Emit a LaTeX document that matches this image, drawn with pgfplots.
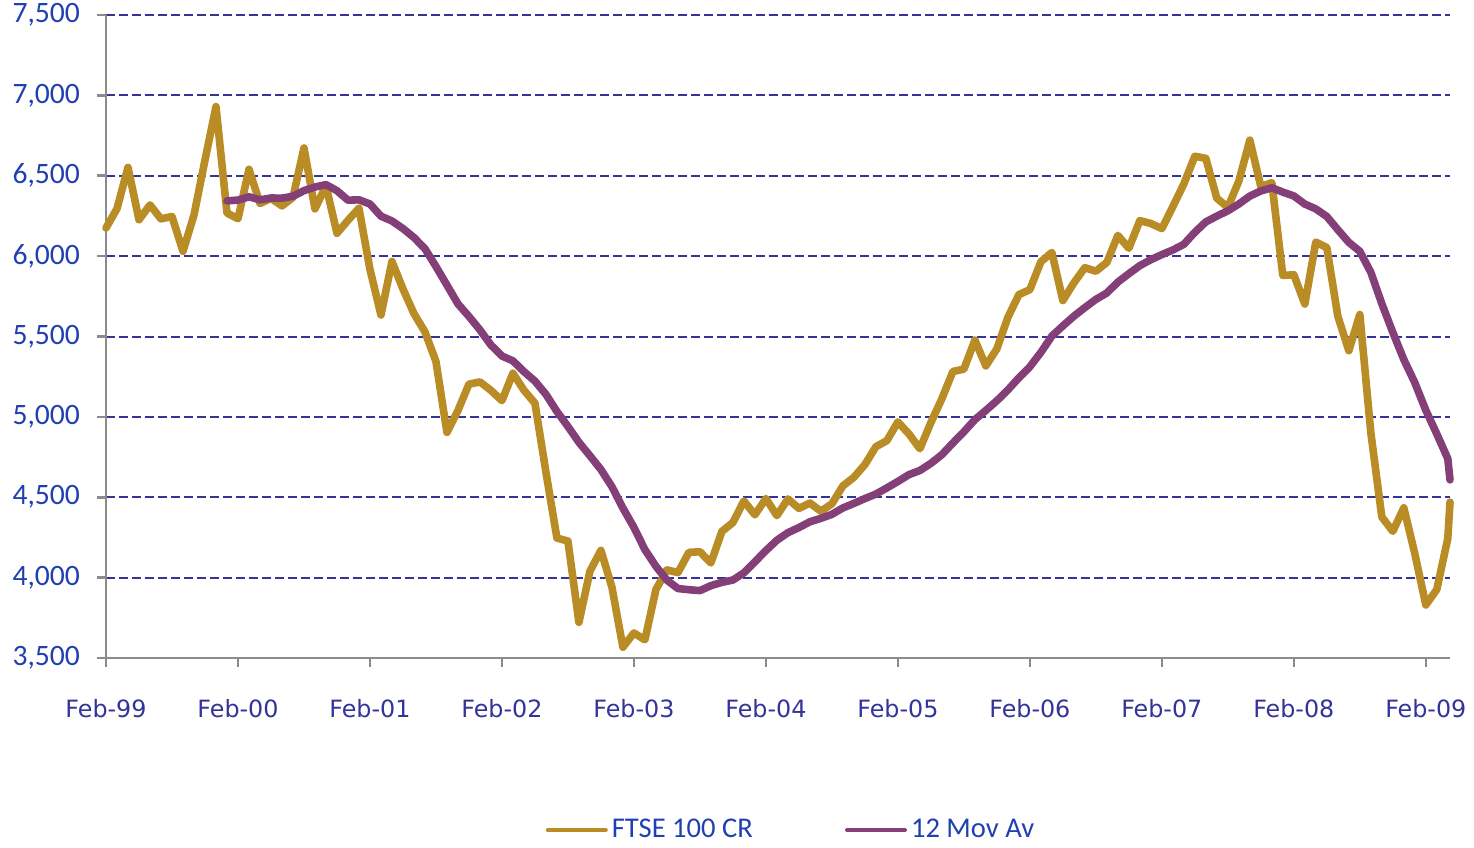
\documentclass[border=0pt]{standalone}
\usepackage{fontspec}
\setmainfont{Carlito}
\newfontfamily\dejavu{DejaVu Sans}
\usepackage{pgfplots}
\pgfplotsset{compat=1.18}
\definecolor{ftse}{RGB}{186,140,38}
\definecolor{mav}{RGB}{133,63,120}
\definecolor{gridblue}{RGB}{51,51,153}
\definecolor{ylab}{RGB}{32,64,178}
\definecolor{xlab}{RGB}{51,51,153}
\begin{document}
\begin{tikzpicture}
\useasboundingbox (-53pt,-94.5pt) rectangle (684pt,329pt);
\begin{axis}[
  at={(0,0)}, anchor=south west,
  scale only axis, width=672pt, height=321.5pt,
  xmin=0, xmax=122.2, ymin=3500, ymax=7500,
  clip=false,
  axis x line*=bottom, axis y line*=left,
  axis line style={draw=gray!90, line width=1.3pt},
  ytick={3500,4000,...,7500},
  xtick={0,12,...,120},
  xticklabels={Feb-99,Feb-00,Feb-01,Feb-02,Feb-03,Feb-04,Feb-05,Feb-06,Feb-07,Feb-08,Feb-09},
  tick align=outside, major tick length=4.5pt,
  tick style={draw=gray!90, line width=1.3pt},
  ymajorgrids,
  major grid style={draw=gridblue, dash pattern=on 4.5pt off 2pt, line width=1pt},
  /pgf/number format/assume math mode=true,
  /pgf/number format/.cd, fixed, 1000 sep={,}, /pgfplots/.cd,
  yticklabel style={font=\fontsize{14.8pt}{17pt}\selectfont, text=ylab, xshift=-5pt},
  xticklabel style={font=\dejavu\fontsize{11.9pt}{14pt}\selectfont, text=xlab, yshift=-12.5pt},
  legend style={at={(0.5104,-0.2675)}, anchor=center, draw=none, fill=none,
    legend columns=2, font=\fontsize{14.3pt}{17pt}\selectfont, text=ylab,
    /tikz/every even column/.append style={column sep=44pt}},
  legend image code/.code={\draw[#1, line width=2pt, line cap=round] (0pt,0pt) -- (29pt,0pt);},
]
\addplot[ftse, line width=3.8pt, line join=round, line cap=round] coordinates {
(0,6175.0) (1,6295.3) (2,6552.2) (3,6226.2) (4,6318.5) (5,6231.9) (6,6246.4) (7,6029.8) (8,6255.7) (9,6597.2) (10,6930.2) (11,6268.5)
(12,6232.6) (13,6540.2) (14,6327.4) (15,6359.3) (16,6312.7) (17,6365.3) (18,6672.7) (19,6294.2) (20,6438.4) (21,6142.2) (22,6222.5) (23,6297.5)
(24,5917.9) (25,5633.7) (26,5966.9) (27,5796.1) (28,5642.5) (29,5529.1) (30,5345.0) (31,4903.4) (32,5039.7) (33,5203.6) (34,5217.4) (35,5164.8)
(36,5101.0) (37,5271.8) (38,5165.6) (39,5085.1) (40,4656.4) (41,4246.2) (42,4227.3) (43,3721.8) (44,4039.7) (45,4169.4) (46,3940.4) (47,3567.4)
(48,3655.6) (49,3613.3) (50,3926.0) (51,4048.1) (52,4031.2) (53,4157.0) (54,4161.1) (55,4091.3) (56,4287.6) (57,4342.6) (58,4476.9) (59,4390.7)
(60,4492.2) (61,4385.7) (62,4489.7) (63,4430.7) (64,4464.1) (65,4413.1) (66,4459.3) (67,4570.8) (68,4624.2) (69,4703.2) (70,4814.3) (71,4852.3)
(72,4968.5) (73,4894.4) (74,4801.7) (75,4964.0) (76,5113.2) (77,5282.3) (78,5296.9) (79,5477.7) (80,5317.3) (81,5423.2) (82,5618.8) (83,5760.3)
(84,5791.5) (85,5964.6) (86,6023.1) (87,5723.8) (88,5833.4) (89,5928.3) (90,5906.1) (91,5960.8) (92,6129.2) (93,6048.8) (94,6220.8) (95,6203.1)
(96,6171.5) (97,6308.0) (98,6449.2) (99,6621.4) (100,6607.9) (101,6360.1) (102,6303.3) (103,6466.8) (104,6721.6) (105,6432.5) (106,6456.9) (107,5879.8)
(108,5884.3) (109,5702.1) (110,6087.3) (111,6053.5) (112,5625.9) (113,5411.9) (114,5636.6) (115,4902.5) (116,4377.3) (117,4288.0) (118,4434.2) (119,4149.6)
(120,3830.1) (121,3926.1) (122,4243.7) (122.2,4470.0)
};
\addlegendentry{FTSE 100 CR}
\addplot[mav, line width=3.8pt, line join=round, line cap=round] coordinates {
(11,6343.9)
(12,6348.7) (13,6369.1) (14,6350.4) (15,6361.5) (16,6361.0) (17,6372.1) (18,6407.6) (19,6429.7) (20,6444.9) (21,6407.0) (22,6348.0) (23,6350.4)
(24,6324.2) (25,6248.7) (26,6218.6) (27,6171.7) (28,6115.8) (29,6046.1) (30,5935.5) (31,5819.6) (32,5703.0) (33,5624.8) (34,5541.1) (35,5446.7)
(36,5378.6) (37,5348.4) (38,5281.7) (39,5222.4) (40,5140.2) (41,5033.3) (42,4940.2) (43,4841.7) (44,4758.4) (45,4672.2) (46,4565.8) (47,4432.7)
(48,4312.2) (49,4174.0) (50,4070.7) (51,3984.3) (52,3932.2) (53,3924.8) (54,3919.3) (55,3950.0) (56,3970.7) (57,3985.1) (58,4029.8) (59,4098.5)
(60,4168.2) (61,4232.5) (62,4279.5) (63,4311.4) (64,4347.5) (65,4368.8) (66,4393.7) (67,4433.6) (68,4461.7) (69,4491.7) (70,4519.8) (71,4558.3)
(72,4598.0) (73,4640.4) (74,4666.4) (75,4710.8) (76,4764.9) (77,4837.4) (78,4907.2) (79,4982.7) (80,5040.5) (81,5100.5) (82,5167.5) (83,5243.2)
(84,5311.8) (85,5401.0) (86,5502.7) (87,5566.1) (88,5626.1) (89,5679.9) (90,5730.7) (91,5770.9) (92,5838.6) (93,5890.7) (94,5940.9) (95,5977.8)
(96,6009.5) (97,6038.1) (98,6073.6) (99,6148.4) (100,6212.9) (101,6248.9) (102,6282.0) (103,6324.2) (104,6373.5) (105,6405.5) (106,6425.2) (107,6398.3)
(108,6374.3) (109,6323.8) (110,6293.7) (111,6246.3) (112,6164.5) (113,6085.5) (114,6029.9) (115,5899.6) (116,5704.2) (117,5525.5) (118,5357.0) (119,5212.8)
(120,5041.6) (121,4893.6) (122,4740.0) (122.2,4608.0)
};
\addlegendentry{12 Mov Av}
\end{axis}
\end{tikzpicture}
\end{document}
